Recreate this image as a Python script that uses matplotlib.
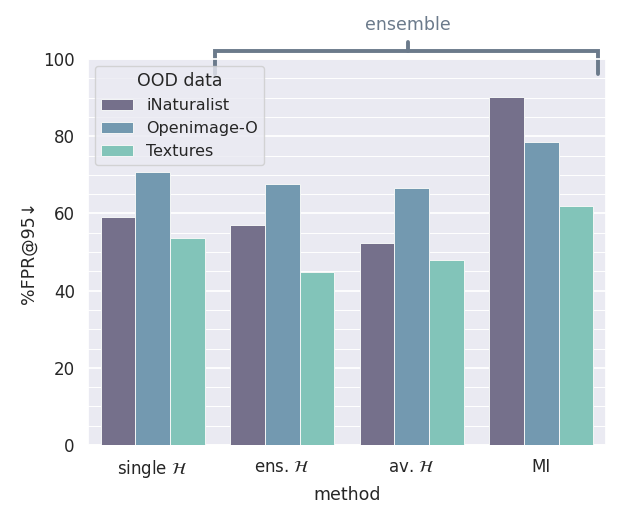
import numpy as np
import matplotlib
matplotlib.use("Agg")
import matplotlib.pyplot as plt
import seaborn as sns
from matplotlib.ticker import MultipleLocator

# values
methods = [r"single $\mathcal{H}$", r"ens. $\mathcal{H}$", r"av. $\mathcal{H}$", "MI"]
ood_sets = ["iNaturalist", "Openimage-O", "Textures"]
inaturalist = [59.1, 57.1, 52.3, 90.1]
openimage = [70.6, 67.7, 66.5, 78.4]
textures = [53.7, 44.7, 47.9, 61.8]
colors = ["#75708b", "#7399b0", "#82c4b9"]

sns.set_theme(style="darkgrid")
plt.rcParams["font.family"] = ["DejaVu Sans"]

fig = plt.figure(figsize=(6.23, 5.19), dpi=100)
ax = fig.add_axes([88 / 623, 1 - 445 / 519, 518 / 623, 386 / 519])

x = np.arange(len(methods))
width = 0.8 / 3
for i, (name, vals) in enumerate(zip(ood_sets, [inaturalist, openimage, textures])):
    ax.bar(x + (i - 1) * width, vals, width, color=colors[i], label=name,
           edgecolor="#f4f6f6", linewidth=0.7, zorder=3)

ax.set_xlim(-0.5, len(methods) - 0.5)
ax.set_ylim(0, 100)
ax.set_xticks(x)
ax.set_xticklabels(methods, fontsize=12)
ax.yaxis.set_major_locator(MultipleLocator(20))
ax.yaxis.set_minor_locator(MultipleLocator(5))
ax.tick_params(axis="y", labelsize=12)
ax.grid(axis="x", visible=False)
ax.grid(axis="y", which="major", color="white", linewidth=1.3, zorder=0)
ax.grid(axis="y", which="minor", color="white", linewidth=0.7, zorder=0)
ax.set_xlabel("method", fontsize=12.5)
ax.set_ylabel("%FPR@95↓", fontsize=12.5)

# bracket over the ensemble methods
bcol = "#6b7a8b"
ax.plot([0.48, 0.48, 3.44, 3.44], [96.1, 102.1, 102.1, 96.1], color=bcol,
        linewidth=2.8, clip_on=False, zorder=1, solid_joinstyle="miter")
ax.plot([1.97, 1.97], [102.1, 104.4], color=bcol, linewidth=2.8, clip_on=False)
ax.text(1.97, 108.8, "ensemble", color=bcol, fontsize=12.5, ha="center", va="center")

leg = ax.legend(title="OOD data", loc="upper left", fontsize=11.5, title_fontsize=12.5,
                bbox_to_anchor=(0.0135, 0.983), borderaxespad=0, framealpha=0.8)
leg.set_zorder(5)

fig.savefig("out.png", dpi=100)
